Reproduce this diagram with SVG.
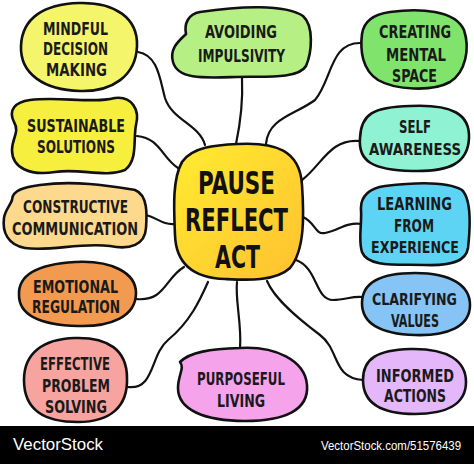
<svg xmlns="http://www.w3.org/2000/svg" width="474" height="464" viewBox="0 0 474 464">
<defs>
<linearGradient id="gc" x1="0" y1="0" x2="1" y2="1">
<stop offset="0" stop-color="#ffec30"/>
<stop offset="1" stop-color="#ffc030"/>
</linearGradient>
<style>
.n{stroke:#111;stroke-width:2.6;stroke-linejoin:round}
.c{fill:none;stroke:#111;stroke-width:2.2;stroke-linecap:round}
.t{font-family:"DejaVu Sans Condensed","Liberation Sans Narrow","DejaVu Sans",sans-serif;font-size:18px;fill:#1a1a1a;font-weight:bold;text-anchor:middle}
.s{font-size:16.5px}
.tc{font-family:"DejaVu Sans Condensed","Liberation Sans Narrow","DejaVu Sans",sans-serif;font-size:32px;fill:#111;font-weight:bold;text-anchor:middle}
.w{font-family:"Liberation Sans",Arial,sans-serif;fill:#fff}
</style>
</defs>
<rect width="474" height="464" fill="#fff"/>
<g id="connectors">
<path class="c" d="M138,52 C158,55 160,80 165,98 C172,120 200,125 205,145"/>
<path class="c" d="M242,78 C243,100 240,125 236,144"/>
<path class="c" d="M361,43 C330,42 332,80 315,100 C295,115 268,118 266,144"/>
<path class="c" d="M137,136 C160,138 162,158 178,168"/>
<path class="c" d="M360,141 C330,138 322,165 302,180"/>
<path class="c" d="M146,215 C158,218 162,225 175,224"/>
<path class="c" d="M303,217 C315,222 315,235 325,233 C340,230 345,222 362,224"/>
<path class="c" d="M136,299 C165,302 165,278 184,267"/>
<path class="c" d="M296,260 C318,268 315,300 333,300 C345,300 352,296 362,297"/>
<path class="c" d="M128,387 C155,390 150,355 168,340 C190,322 200,300 208,282"/>
<path class="c" d="M237,282 C235,300 242,325 240,348"/>
<path class="c" d="M267,281 C275,300 300,320 320,335 C340,350 332,378 363,380"/>
</g>
<g id="mindful">
<path class="n" fill="#f5f56c" d="M79,3 C115,2 138,18 137,46 C136,76 112,92 80,91 C44,90 20,74 21,46 C22,18 44,4 79,3 Z"/>
<text class="t" x="75.5" y="35" textLength="65" lengthAdjust="spacingAndGlyphs">MINDFUL</text>
<text class="t" x="75.5" y="55" textLength="65" lengthAdjust="spacingAndGlyphs">DECISION</text>
<text class="t" x="76.5" y="76" textLength="61" lengthAdjust="spacingAndGlyphs">MAKING</text>
</g>
<g id="avoiding">
<path class="n" fill="#b6ef84" d="M200,12 C240,6 285,4 303,16 C314,26 312,52 306,66 C298,80 260,76 236,77 C205,78 178,80 173,62 C169,48 180,40 186,34 C184,24 188,14 200,12 Z"/>
<text class="t" x="241" y="38" textLength="72" lengthAdjust="spacingAndGlyphs">AVOIDING</text>
<text class="t" x="241.5" y="62" textLength="87" lengthAdjust="spacingAndGlyphs">IMPULSIVITY</text>
</g>
<g id="creating">
<path class="n" fill="#7fe36c" d="M390,12 C420,8 455,10 464,30 C470,48 466,72 450,82 C432,92 395,90 378,80 C362,70 360,50 362,34 C364,20 375,14 390,12 Z"/>
<text class="t" x="415" y="38" textLength="72" lengthAdjust="spacingAndGlyphs">CREATING</text>
<text class="t" x="416" y="61" textLength="60" lengthAdjust="spacingAndGlyphs">MENTAL</text>
<text class="t" x="414.5" y="82" textLength="45" lengthAdjust="spacingAndGlyphs">SPACE</text>
</g>
<g id="sustainable">
<path class="n" fill="#f6ef3e" d="M30,100 C60,96 90,104 115,98 C132,96 140,110 136,125 C133,140 138,160 125,170 C105,178 80,168 55,172 C30,176 12,168 12,150 C12,138 20,132 14,122 C8,110 15,102 30,100 Z"/>
<text class="t" x="76" y="132" textLength="98" lengthAdjust="spacingAndGlyphs">SUSTAINABLE</text>
<text class="t" x="76" y="153" textLength="78" lengthAdjust="spacingAndGlyphs">SOLUTIONS</text>
</g>
<g id="self">
<path class="n" fill="#8ff2d3" d="M410,106 C452,104 470,114 469,138 C468,163 450,172 412,171 C372,170 358,161 360,138 C361,114 373,107 410,106 Z"/>
<text class="t" x="415" y="133" textLength="32" lengthAdjust="spacingAndGlyphs">SELF</text>
<text class="t s" x="415" y="155" textLength="92" lengthAdjust="spacingAndGlyphs">AWARENESS</text>
</g>
<g id="center">
<path class="n" fill="url(#gc)" d="M238,144 C275,142 300,150 302,185 C304,215 305,250 290,268 C275,282 245,280 225,279 C195,278 176,265 175,235 C174,210 172,180 182,162 C192,147 215,145 238,144 Z"/>
<text class="tc" x="236.5" y="194" textLength="77" lengthAdjust="spacingAndGlyphs">PAUSE</text>
<text class="tc" x="236.5" y="231" textLength="103" lengthAdjust="spacingAndGlyphs">REFLECT</text>
<text class="tc" x="237.5" y="268" textLength="45" lengthAdjust="spacingAndGlyphs">ACT</text>
</g>
<g id="constructive">
<path class="n" fill="#fcd98c" d="M40,185 C75,180 110,186 135,190 C148,195 147,215 146,228 C145,245 130,250 110,246 C80,242 50,252 25,248 C8,245 2,232 4,218 C5,210 10,206 12,200 C12,190 25,187 40,185 Z"/>
<text class="t" x="75.5" y="213" textLength="105" lengthAdjust="spacingAndGlyphs">CONSTRUCTIVE</text>
<text class="t" x="75" y="235" textLength="126" lengthAdjust="spacingAndGlyphs">COMMUNICATION</text>
</g>
<g id="learning">
<path class="n" fill="#5ed4f4" d="M385,186 C410,183 445,180 462,190 C472,200 470,230 468,248 C466,262 450,266 425,265 C400,264 368,268 362,252 C358,240 362,225 361,210 C360,196 370,188 385,186 Z"/>
<text class="t" x="414.5" y="210" textLength="75" lengthAdjust="spacingAndGlyphs">LEARNING</text>
<text class="t" x="414" y="232" textLength="40" lengthAdjust="spacingAndGlyphs">FROM</text>
<text class="t s" x="415" y="253" textLength="88" lengthAdjust="spacingAndGlyphs">EXPERIENCE</text>
</g>
<g id="emotional">
<path class="n" fill="#f29a4f" d="M75,262 C112,260 136,273 136,293 C136,317 110,327 78,326 C42,325 19,316 19,295 C18,273 40,264 75,262 Z"/>
<text class="t" x="75.5" y="293" textLength="85" lengthAdjust="spacingAndGlyphs">EMOTIONAL</text>
<text class="t" x="76" y="313" textLength="88" lengthAdjust="spacingAndGlyphs">REGULATION</text>
</g>
<g id="clarifying">
<path class="n" fill="#86c4f5" d="M415,273 C452,273 470,286 470,305 C470,327 447,336 415,335 C382,334 362,325 362,303 C362,283 380,273 415,273 Z"/>
<text class="t s" x="414.5" y="305" textLength="85" lengthAdjust="spacingAndGlyphs">CLARIFYING</text>
<text class="t" x="415" y="327" textLength="48" lengthAdjust="spacingAndGlyphs">VALUES</text>
</g>
<g id="effective">
<path class="n" fill="#f7a4a1" d="M75,338 C108,337 127,350 127,378 C128,407 110,422 78,422 C44,422 24,410 24,380 C24,353 43,339 75,338 Z"/>
<text class="t" x="75" y="370" textLength="70" lengthAdjust="spacingAndGlyphs">EFFECTIVE</text>
<text class="t" x="76" y="392" textLength="68" lengthAdjust="spacingAndGlyphs">PROBLEM</text>
<text class="t" x="76" y="413" textLength="62" lengthAdjust="spacingAndGlyphs">SOLVING</text>
</g>
<g id="purposeful">
<path class="n" fill="#f5a4ec" d="M240,348 C275,346 305,360 307,385 C309,410 285,421 245,421 C205,421 178,410 178,388 C178,375 185,368 180,362 C190,352 210,349 240,348 Z"/>
<text class="t" x="241" y="385" textLength="88" lengthAdjust="spacingAndGlyphs">PURPOSEFUL</text>
<text class="t" x="241" y="407" textLength="48" lengthAdjust="spacingAndGlyphs">LIVING</text>
</g>
<g id="informed">
<path class="n" fill="#e3b7f9" d="M410,349 C448,348 466,361 466,382 C466,405 445,414 415,414 C382,414 363,404 363,380 C363,358 378,350 410,349 Z"/>
<text class="t" x="415" y="382" textLength="78" lengthAdjust="spacingAndGlyphs">INFORMED</text>
<text class="t" x="415" y="402" textLength="62" lengthAdjust="spacingAndGlyphs">ACTIONS</text>
</g>
<g id="footer">
<rect x="0" y="426" width="474" height="38" fill="#000"/>
<text class="w" x="13" y="450" font-size="17" textLength="90" lengthAdjust="spacingAndGlyphs">VectorStock</text>
<text class="w" x="461" y="450" font-size="12" text-anchor="end" textLength="140" lengthAdjust="spacingAndGlyphs">VectorStock.com/51576439</text>
</g>
</svg>
